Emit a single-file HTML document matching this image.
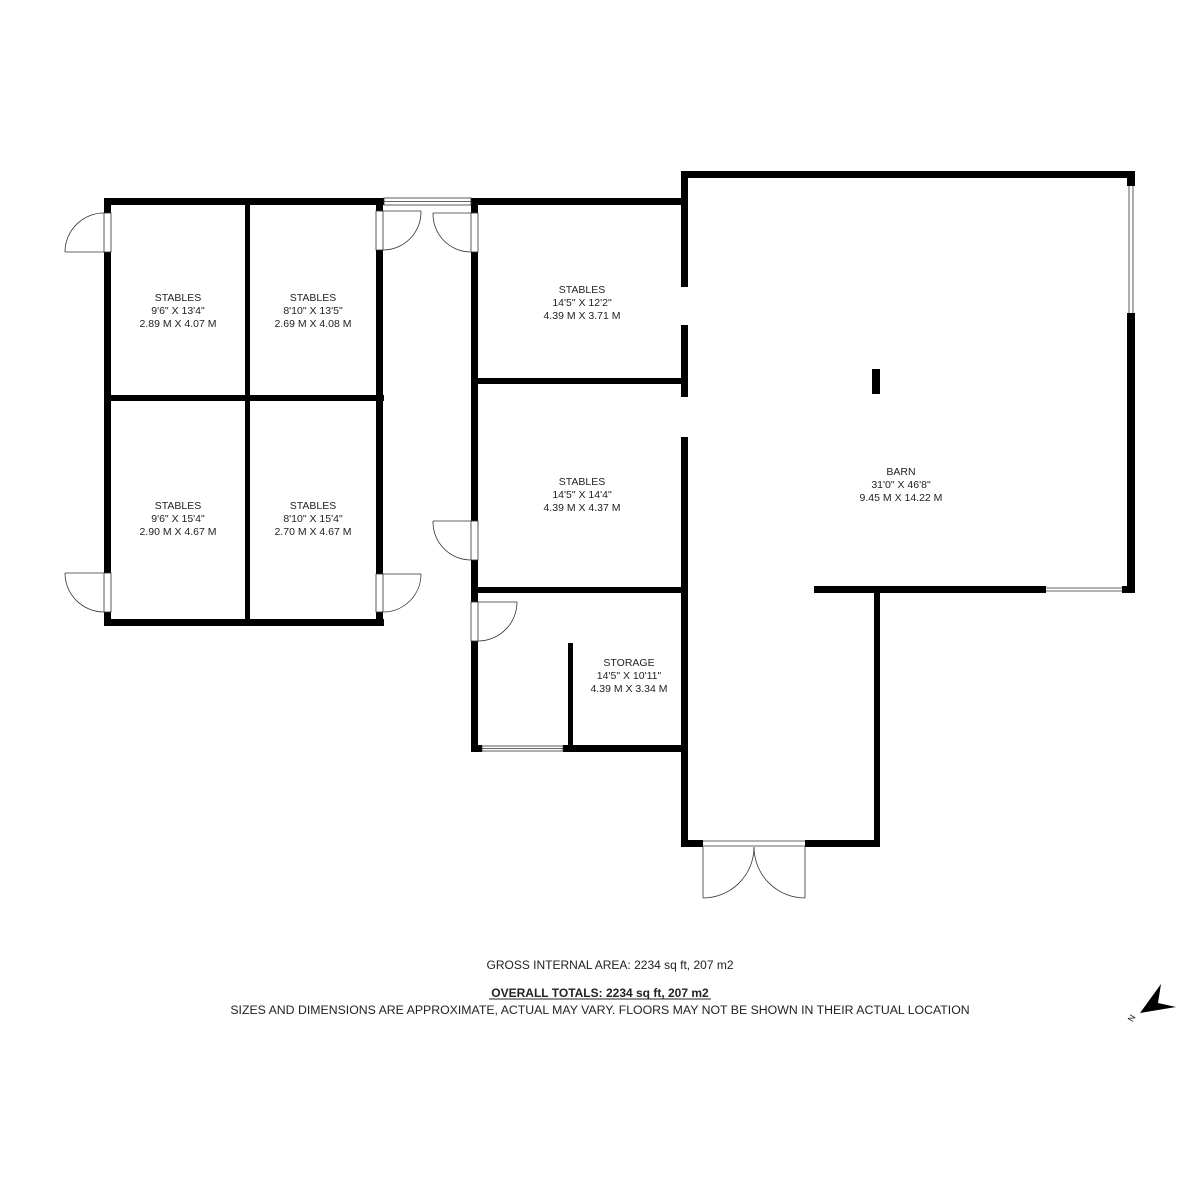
<!DOCTYPE html>
<html><head><meta charset="utf-8"><style>
body{margin:0;background:#fff}
svg{display:block}
text{font-family:"Liberation Sans",sans-serif;fill:#222}
.l{font-size:10.5px;text-anchor:middle}
</style></head><body>
<svg width="1200" height="1200" viewBox="0 0 1200 1200" xmlns="http://www.w3.org/2000/svg">
<rect width="1200" height="1200" fill="#fff"/>
<g fill="#000">
<rect x="104" y="198" width="280" height="7"/>
<rect x="104" y="619" width="280" height="7"/>
<rect x="104" y="198" width="7" height="428"/>
<rect x="376" y="198" width="7" height="428"/>
<rect x="245" y="198" width="5" height="428"/>
<rect x="104" y="395" width="280" height="6"/>
<rect x="471" y="198" width="7" height="554"/>
<rect x="471" y="198" width="216" height="7"/>
<rect x="478" y="378" width="205" height="6"/>
<rect x="471" y="587" width="212" height="6"/>
<rect x="471" y="745" width="216" height="7"/>
<rect x="568" y="643" width="5" height="109"/>
<rect x="681" y="171" width="454" height="7"/>
<rect x="681" y="171" width="7" height="676"/>
<rect x="1127" y="171" width="8" height="15"/>
<rect x="1127" y="313" width="8" height="280"/>
<rect x="814" y="586" width="232" height="7"/>
<rect x="1122" y="586" width="13" height="7"/>
<rect x="874" y="586" width="6" height="261"/>
<rect x="681" y="840" width="199" height="7"/>
<rect x="872" y="369" width="8" height="25"/>
</g>
<g fill="#fff">
<rect x="680" y="287" width="10" height="38"/>
<rect x="680" y="397" width="10" height="40"/>
<rect x="703" y="839" width="102" height="9"/>
<rect x="1126" y="186" width="10" height="127"/>
<rect x="1046" y="585" width="76" height="9"/>
<rect x="384" y="197" width="87" height="9"/>
<rect x="103" y="213" width="9" height="39"/>
<rect x="103" y="573" width="9" height="39"/>
<rect x="375" y="211" width="9" height="39"/>
<rect x="375" y="574" width="9" height="38"/>
<rect x="470" y="213" width="9" height="39"/>
<rect x="470" y="521" width="9" height="39"/>
<rect x="470" y="602" width="9" height="39"/>
<rect x="482" y="744" width="81" height="9"/>
</g>
<g fill="none" stroke="#333" stroke-width="0.8">
<rect x="104" y="213" width="7" height="39"/><rect x="104" y="573" width="7" height="39"/>
<rect x="376" y="211" width="7" height="39"/><rect x="376" y="574" width="7" height="38"/>
<rect x="471" y="213" width="7" height="39"/><rect x="471" y="521" width="7" height="39"/>
<rect x="471" y="602" width="7" height="39"/>
<rect x="384" y="198" width="87" height="7"/><line x1="384" y1="201.5" x2="471" y2="201.5"/>
<rect x="482" y="746" width="81" height="5"/><line x1="482" y1="748.5" x2="563" y2="748.5"/>
<line x1="1129" y1="186" x2="1129" y2="313"/><line x1="1133" y1="186" x2="1133" y2="313"/>
<line x1="1046" y1="588" x2="1122" y2="588"/><line x1="1046" y1="591" x2="1122" y2="591"/>
<line x1="703" y1="841" x2="805" y2="841"/><line x1="703" y1="846" x2="805" y2="846"/>
<path d="M65 252 A39 39 0 0 1 104 213"/><line x1="65" y1="252" x2="104" y2="252"/>
<path d="M65 573 A39 39 0 0 0 104 612"/><line x1="65" y1="573" x2="104" y2="573"/>
<path d="M383 211 L421 211 M383 250 A38 38 0 0 0 421 211"/>
<path d="M421 574 A38 38 0 0 1 383 612"/><line x1="383" y1="574" x2="421" y2="574"/>
<path d="M471 213 L433 213 M433 213 A38 38 0 0 0 471 252"/>
<path d="M471 521 L433 521 M433 521 A38 38 0 0 0 471 560"/>
<path d="M478 602 L517 602 M517 602 A39 39 0 0 1 478 641"/>
<path d="M703 847 L703 898 M703 898 A51 51 0 0 0 754 847"/>
<path d="M805 847 L805 898 M805 898 A51 51 0 0 1 754 847"/>
</g>
<text class="l" x="178" y="301">STABLES</text>
<text class="l" x="178" y="314">9'6" X 13'4"</text>
<text class="l" x="178" y="327">2.89 M X 4.07 M</text>
<text class="l" x="313" y="301">STABLES</text>
<text class="l" x="313" y="314">8'10" X 13'5"</text>
<text class="l" x="313" y="327">2.69 M X 4.08 M</text>
<text class="l" x="178" y="509">STABLES</text>
<text class="l" x="178" y="522">9'6" X 15'4"</text>
<text class="l" x="178" y="535">2.90 M X 4.67 M</text>
<text class="l" x="313" y="509">STABLES</text>
<text class="l" x="313" y="522">8'10" X 15'4"</text>
<text class="l" x="313" y="535">2.70 M X 4.67 M</text>
<text class="l" x="582" y="293">STABLES</text>
<text class="l" x="582" y="306">14'5" X 12'2"</text>
<text class="l" x="582" y="319">4.39 M X 3.71 M</text>
<text class="l" x="582" y="485">STABLES</text>
<text class="l" x="582" y="498">14'5" X 14'4"</text>
<text class="l" x="582" y="511">4.39 M X 4.37 M</text>
<text class="l" x="629" y="666">STORAGE</text>
<text class="l" x="629" y="679">14'5" X 10'11"</text>
<text class="l" x="629" y="692">4.39 M X 3.34 M</text>
<text class="l" x="901" y="475">BARN</text>
<text class="l" x="901" y="488">31'0" X 46'8"</text>
<text class="l" x="901" y="501">9.45 M X 14.22 M</text>
<text x="610" y="969" font-size="12" text-anchor="middle">GROSS INTERNAL AREA: 2234 sq ft, 207 m2</text>
<text x="600" y="997" font-size="12" font-weight="bold" text-anchor="middle">OVERALL TOTALS: 2234 sq ft, 207 m2</text>
<line x1="489" y1="999" x2="711" y2="999" stroke="#222" stroke-width="1"/>
<text x="600" y="1014" font-size="12.3" text-anchor="middle">SIZES AND DIMENSIONS ARE APPROXIMATE, ACTUAL MAY VARY.  FLOORS MAY NOT BE SHOWN IN THEIR ACTUAL LOCATION</text>
<polygon points="1161,984 1158,1003 1176,1007 1140,1013" fill="#000"/>
<text x="1130" y="1024" font-size="9" transform="rotate(-60 1130 1021)">N</text>
</svg>
</body></html>
